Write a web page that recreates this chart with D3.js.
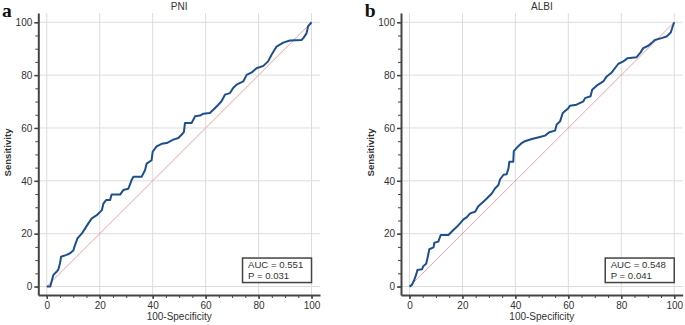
<!DOCTYPE html>
<html lang="en">
<head>
    <meta charset="UTF-8">
    <title>ROC curves PNI / ALBI</title>
    <script src="https://d3js.org/d3.v7.min.js"></script>
    <style>
        body { margin: 0; background: #fff; }
        text { font-family: "Liberation Sans", Arial, sans-serif; fill: #333; }
    </style>
</head>
<body>
    <div id="chart-container"></div>

    <script>
        // ROC points: [100-Specificity, Sensitivity]
        const pniPoints = [
            [0,0],[1.3,0],[2.5,4.4],[3.8,5.7],[4.4,6.5],[5,8.8],[5.4,11.3],[7.5,12],[8.8,12.6],[10,13.6],
            [10.6,15.5],[11.6,18.2],[13.2,20],[14.5,22],[15.7,23.9],[17,25.8],[18.9,27],[20.8,28.9],
            [21.4,31.4],[22.4,32.7],[23.9,32.7],[24.5,34.8],[27.7,34.8],[28.9,36.5],[30.8,37],[32,40.2],
            [32.7,41.5],[35.8,41.5],[37.1,44],[37.7,46.5],[39.6,47.8],[40,51],[41.5,53],[43.4,54],
            [45.3,54.3],[47.8,55.6],[49.7,56.2],[51,57.5],[51.8,58.5],[52.2,61.9],[54.7,61.9],[56,64.4],
            [57.9,64.7],[59.1,65.4],[61.6,65.7],[62.9,66.9],[64.8,68.8],[66,70.1],[67.3,72.6],[69.2,73.2],
            [70.4,75.1],[71.7,76.4],[74.2,77.6],[75.5,80.1],[77.4,81],[79.2,82.6],[81.8,83.5],[83.6,85.2],
            [84.9,87.7],[86.8,90.8],[89.3,92.3],[91.8,93.1],[96.2,93.3],[96.9,94],[98.1,95.8],[98.7,98.4],[100,100]
        ];
        const albiPoints = [
            [0,0],[0.9,0.6],[1.8,2.5],[2.5,4.4],[3,6.3],[4.7,6.5],[5.3,7.8],[6.3,8.6],[6.8,10.7],[7.5,14.1],
            [9.1,14.8],[9.4,16.6],[10.9,17],[11.8,19.5],[14.7,19.5],[16.6,21.4],[17.9,22.6],[19.1,23.9],
            [20.4,25.4],[21.6,26.2],[22.9,27.7],[24.8,28.3],[26,30.4],[27.9,32.1],[29.2,33.3],[31.1,35.2],
            [32.3,37.1],[33.6,38.4],[34.2,40.5],[35.5,42.3],[36.7,42.5],[37.4,44.7],[37.7,47.2],[39.2,47.2],
            [39.4,51.2],[40.5,52.5],[42.4,54.3],[43.6,55],[46.2,55.8],[49.3,56.6],[51.2,57.1],[52.8,58.4],
            [55,59],[55.6,61.3],[56.9,62.5],[57.9,65.7],[60,67.5],[60.6,68.4],[63.1,68.8],[65.7,70.1],
            [66.3,71.3],[68.4,72],[69,74.5],[70.7,76],[73.2,77.6],[74.5,79.5],[76.4,81],[77.6,82.6],
            [78.9,84.3],[80.8,85.2],[82.3,86.4],[85.8,86.8],[87.3,88.6],[88.3,90.2],[90.2,91.1],[91.4,92.1],
            [92.7,93.3],[95.2,94],[97.1,94.6],[98.7,96.1],[99.4,98.4],[100,100]
        ];

        const panelLabels = ["a", "b"];
        const panelTitles = ["PNI", "ALBI"];
        const aucLabels = ["AUC = 0.551", "AUC = 0.548"];
        const pLabels = ["P = 0.031", "P = 0.041"];
        const majorTicks = [0, 20, 40, 60, 80, 100];
        const xLabel = "100-Specificity";
        const yLabel = "Sensitivity";

        const svg = d3.select("#chart-container")
            .append("svg")
            .attr("width", 685)
            .attr("height", 325);

        const panelOffsets = [0, 362.7];
        const allPoints = [pniPoints, albiPoints];

        // both panels share the same geometry, just shifted
        const x = d3.scaleLinear().domain([-3.2, 103.2]).range([38.3, 320]);
        const y = d3.scaleLinear().domain([-3.2, 103.5]).range([295, 13]);
        const minorTicks = d3.range(0, 101, 5);

        allPoints.forEach(function(points, i) {
            const g = svg.append("g")
                .attr("transform", `translate(${panelOffsets[i]},0)`);

            // grid
            g.append("g").selectAll("line.vg")
                .data(majorTicks).enter().append("line")
                .attr("x1", d => x(d)).attr("x2", d => x(d))
                .attr("y1", y.range()[1]).attr("y2", y.range()[0])
                .attr("stroke", "#dcdcdc").attr("stroke-width", 1);
            g.append("g").selectAll("line.hg")
                .data(majorTicks).enter().append("line")
                .attr("x1", x.range()[0]).attr("x2", x.range()[1])
                .attr("y1", d => y(d)).attr("y2", d => y(d))
                .attr("stroke", "#dcdcdc").attr("stroke-width", 1);

            // reference diagonal
            g.append("line")
                .attr("x1", x(0)).attr("y1", y(0))
                .attr("x2", x(100)).attr("y2", y(100))
                .attr("stroke", "#e8898b").attr("stroke-width", 0.8);

            // ROC curve
            g.append("path")
                .datum(points)
                .attr("fill", "none")
                .attr("stroke", "#1d4f8e")
                .attr("stroke-width", 2)
                .attr("stroke-linejoin", "round")
                .attr("d", d3.line().x(d => x(d[0])).y(d => y(d[1])));

            // minor ticks
            g.append("g").attr("transform", `translate(0,${y.range()[0]})`)
                .call(d3.axisBottom(x).tickValues(minorTicks).tickSize(3).tickFormat(""))
                .call(a => a.select(".domain").remove())
                .selectAll("line").attr("stroke", "#444");
            g.append("g").attr("transform", `translate(${x.range()[0]},0)`)
                .call(d3.axisLeft(y).tickValues(minorTicks).tickSize(3).tickFormat(""))
                .call(a => a.select(".domain").remove())
                .selectAll("line").attr("stroke", "#444");

            // major axes
            const xAxis = g.append("g").attr("transform", `translate(0,${y.range()[0]})`)
                .call(d3.axisBottom(x).tickValues(majorTicks).tickSize(4).tickSizeOuter(0).tickPadding(3));
            const yAxis = g.append("g").attr("transform", `translate(${x.range()[0]},0)`)
                .call(d3.axisLeft(y).tickValues(majorTicks).tickSize(4).tickSizeOuter(0).tickPadding(2));
            [xAxis, yAxis].forEach(function(a) {
                a.select(".domain").attr("stroke", "#444").attr("stroke-width", 2);
                a.selectAll(".tick line").attr("stroke", "#444").attr("stroke-width", 1.5);
                a.selectAll(".tick text")
                    .style("font-family", "'Liberation Sans', Arial, sans-serif")
                    .style("font-size", "10px").attr("fill", "#333");
            });

            // labels
            g.append("text")
                .attr("x", (x(0) + x(100)) / 2).attr("y", 10)
                .attr("text-anchor", "middle")
                .style("font-size", "10px")
                .text(panelTitles[i]);

            g.append("text")
                .attr("x", (x(0) + x(100)) / 2).attr("y", 320)
                .attr("text-anchor", "middle")
                .style("font-size", "10px")
                .text(xLabel);

            g.append("text")
                .attr("transform", `translate(11,152.5) rotate(-90)`)
                .attr("text-anchor", "middle")
                .style("font-size", "9.6px")
                .style("font-weight", "bold")
                .text(yLabel);

            g.append("text")
                .attr("x", 2).attr("y", 17.4)
                .style("font-family", "'Liberation Serif', 'Times New Roman', serif")
                .style("font-size", "19.5px")
                .style("font-weight", "bold")
                .style("fill", "#111")
                .text(panelLabels[i]);

            // AUC box
            const boxW = 69, boxH = 24.5;
            const bx = x(100) - boxW, by = y(0) - 4 - boxH;
            g.append("rect")
                .attr("x", bx).attr("y", by)
                .attr("width", boxW).attr("height", boxH)
                .attr("fill", "#fff")
                .attr("stroke", "#444").attr("stroke-width", 1.5);
            g.append("text")
                .attr("x", bx + 5.5).attr("y", by + 10)
                .style("font-size", "9.6px")
                .text(aucLabels[i]);
            g.append("text")
                .attr("x", bx + 5.5).attr("y", by + 21)
                .style("font-size", "9.6px")
                .text(pLabels[i]);
        });
    </script>
</body>
</html>
